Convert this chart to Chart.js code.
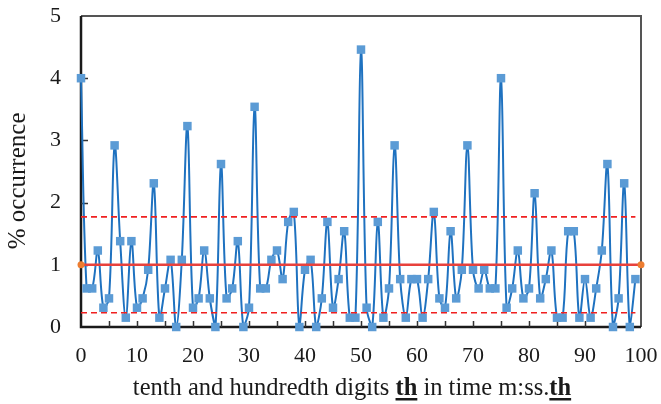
<!DOCTYPE html>
<html lang="en">
<head>
<meta charset="UTF-8">
<title>Digit occurrence</title>
<script src="https://cdn.jsdelivr.net/npm/chart.js@4/dist/chart.umd.min.js"></script>
<style>
  html, body { margin: 0; padding: 0; background: #fff; }
  #wrap { width: 661px; height: 404px; }
</style>
</head>
<body>
<div id="wrap"><canvas id="myChart" width="661" height="404"></canvas></div>
<script>
// tenth/hundredth digits 00..99
const digits = Array.from({length: 100}, (_, i) => i);

// % occurrence
const occurrence = [
  4.00, 0.62, 0.62, 1.23, 0.31, 0.46, 2.92, 1.38, 0.15, 1.38,
  0.31, 0.46, 0.92, 2.31, 0.15, 0.62, 1.08, 0.00, 1.08, 3.23,
  0.31, 0.46, 1.23, 0.46, 0.00, 2.62, 0.46, 0.62, 1.38, 0.00,
  0.31, 3.54, 0.62, 0.62, 1.08, 1.23, 0.77, 1.69, 1.85, 0.00,
  0.92, 1.08, 0.00, 0.46, 1.69, 0.31, 0.77, 1.54, 0.15, 0.15,
  4.46, 0.31, 0.00, 1.69, 0.15, 0.62, 2.92, 0.77, 0.15, 0.77,
  0.77, 0.15, 0.77, 1.85, 0.46, 0.31, 1.54, 0.46, 0.92, 2.92,
  0.92, 0.62, 0.92, 0.62, 0.62, 4.00, 0.31, 0.62, 1.23, 0.46,
  0.62, 2.15, 0.46, 0.77, 1.23, 0.15, 0.15, 1.54, 1.54, 0.15,
  0.77, 0.15, 0.62, 1.23, 2.62, 0.00, 0.46, 2.31, 0.00, 0.77
];

// reference lines
const meanX = [0, 100];
const meanY = 1;
const bandX = [0, 99];
const upperBand = 1.77;
const lowerBand = 0.23;

const xTickMarks = [5, 10, 15, 20, 25, 30, 35, 40, 45, 50, 55, 60, 65, 70, 75, 80, 85, 90, 95];
const yTickMarks = [1, 2, 3, 4];

const FONT = "'Liberation Serif', 'Times New Roman', serif";

const framePlugin = {
  id: 'frame',
  beforeDatasetsDraw(chart) {
    const {ctx, chartArea: a, scales: {x, y}} = chart;
    ctx.save();
    ctx.lineWidth = 2;
    ctx.strokeStyle = '#555';
    ctx.beginPath();
    ctx.moveTo(a.left, a.top);
    ctx.lineTo(a.right, a.top);
    ctx.lineTo(a.right, a.bottom);
    ctx.stroke();
    ctx.strokeStyle = '#1a1a1a';
    ctx.lineWidth = 2.5;
    ctx.beginPath();
    ctx.moveTo(a.left, a.top);
    ctx.lineTo(a.left, a.bottom);
    ctx.lineTo(a.right, a.bottom);
    ctx.stroke();

    // ticks point inward
    ctx.lineWidth = 1.5;
    ctx.strokeStyle = '#333';
    ctx.beginPath();
    xTickMarks.forEach(v => {
      const px = Math.round(x.getPixelForValue(v)) + 0.5;
      ctx.moveTo(px, a.bottom);
      ctx.lineTo(px, a.bottom - 6);
    });
    yTickMarks.forEach(v => {
      const py = Math.round(y.getPixelForValue(v)) + 0.5;
      ctx.moveTo(a.left, py);
      ctx.lineTo(a.left + 7, py);
    });
    ctx.stroke();
    ctx.restore();
  },
  afterDraw(chart) {
    // x title has bold underlined parts, so draw it piece by piece
    const {ctx} = chart;
    const parts = [
      {t: 'tenth and hundredth digits ', b: false},
      {t: 'th', b: true},
      {t: ' in time m:ss.', b: false},
      {t: 'th', b: true}
    ];
    ctx.save();
    ctx.fillStyle = '#1a1a1a';
    ctx.textBaseline = 'alphabetic';
    let total = 0;
    parts.forEach(p => {
      ctx.font = (p.b ? 'bold ' : '') + '24.5px ' + FONT;
      p.w = ctx.measureText(p.t).width;
      total += p.w;
    });
    let cx = 352 - total / 2;
    const base = 395;
    parts.forEach(p => {
      ctx.font = (p.b ? 'bold ' : '') + '24.5px ' + FONT;
      ctx.fillText(p.t, cx, base);
      if (p.b) ctx.fillRect(cx, base + 3, p.w, 2.5);
      cx += p.w;
    });
    ctx.restore();
  }
};

new Chart('myChart', {
  type: 'line',
  data: {
    datasets: [
      {
        data: occurrence.map((v, i) => ({x: digits[i], y: v})),
        borderColor: '#1f72c0',
        borderWidth: 2,
        tension: 0.35,
        pointStyle: 'rect',
        pointRadius: 6,
        pointBackgroundColor: '#5b9bd5',
        pointBorderColor: '#5b9bd5',
        pointBorderWidth: 0,
        clip: false,
        order: 3
      },
      {
        data: meanX.map(v => ({x: v, y: meanY})),
        borderColor: '#e8413c',
        borderWidth: 2.5,
        pointRadius: 3.5,
        pointBackgroundColor: '#ed7d31',
        pointBorderWidth: 0,
        clip: false,
        order: 1
      },
      {
        data: bandX.map(v => ({x: v, y: upperBand})),
        borderColor: '#f02020',
        borderWidth: 1.6,
        borderDash: [6, 4],
        pointRadius: 0,
        order: 2
      },
      {
        data: bandX.map(v => ({x: v, y: lowerBand})),
        borderColor: '#f02020',
        borderWidth: 1.6,
        borderDash: [6, 4],
        pointRadius: 0,
        order: 2
      }
    ]
  },
  options: {
    responsive: false,
    animation: false,
    layout: { padding: { top: 16, right: 20, left: 0, bottom: 0 } },
    plugins: {
      legend: { display: false },
      tooltip: { enabled: false }
    },
    scales: {
      x: {
        type: 'linear',
        min: 0,
        max: 100,
        afterFit: s => { s.height = 77; s.paddingLeft = 0; s.paddingRight = 0; },
        grid: { display: false },
        border: { display: false },
        ticks: {
          stepSize: 10,
          padding: 8,
          color: '#1a1a1a',
          font: { family: FONT, size: 22 }
        }
      },
      y: {
        min: 0,
        max: 5,
        afterFit: s => { s.width = 81; s.paddingTop = 0; s.paddingBottom = 0; },
        grid: { display: false },
        border: { display: false },
        ticks: {
          stepSize: 1,
          padding: 12,
          color: '#1a1a1a',
          font: { family: FONT, size: 22 }
        },
        title: {
          display: true,
          // trailing spaces nudge the visible text a little lower, as in the original
          text: '% occurrence   ',
          color: '#1a1a1a',
          padding: { top: 3, bottom: 0 },
          font: { family: FONT, size: 25 }
        }
      }
    }
  },
  plugins: [framePlugin]
});
</script>
</body>
</html>
